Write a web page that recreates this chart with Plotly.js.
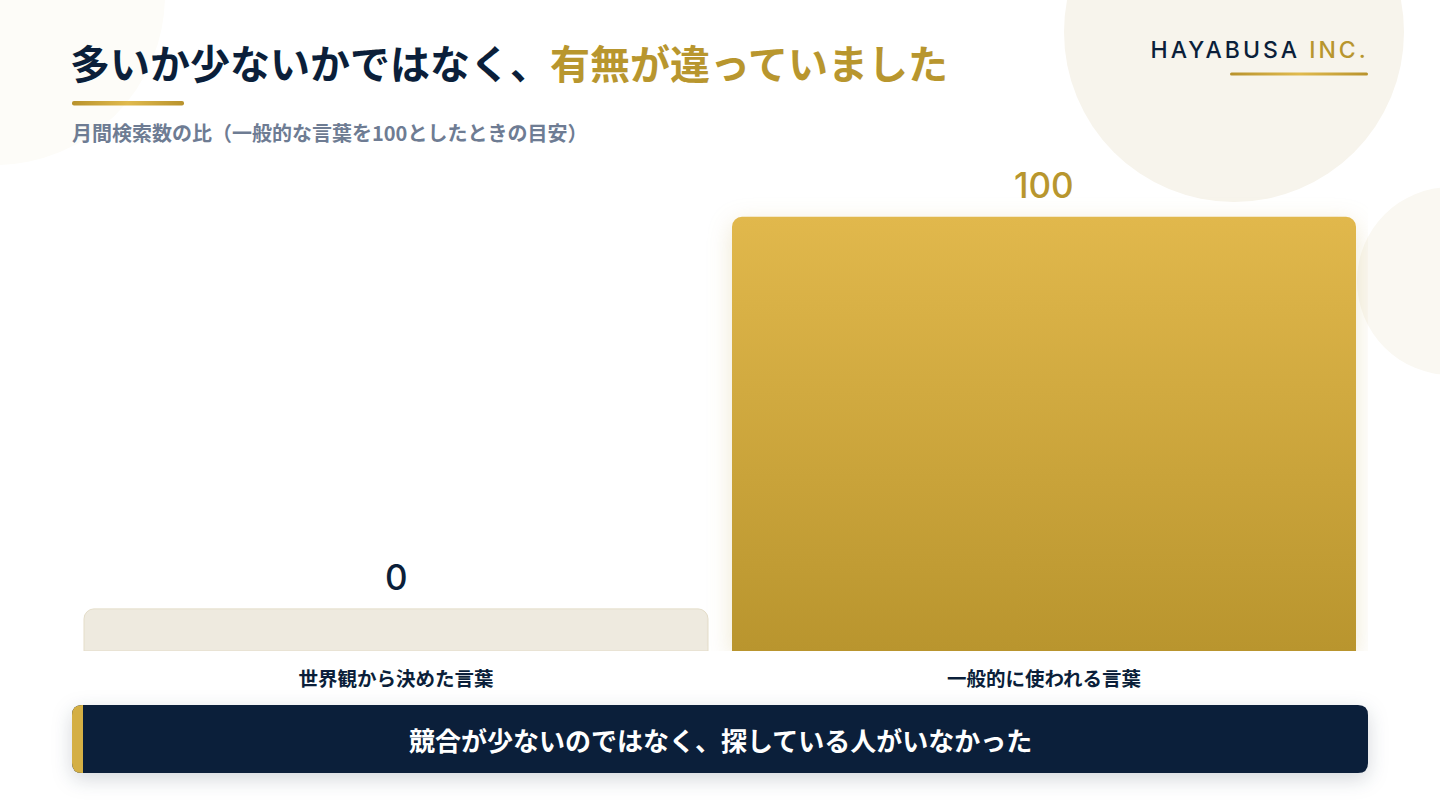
<!DOCTYPE html>
<html><head><meta charset="utf-8">
<script src="https://cdn.plot.ly/plotly-3.0.1.min.js"></script>
<style>html,body{margin:0;padding:0;background:#fff;}#chart{width:1440px;height:810px;}</style>
</head><body><div id="chart"></div>
<script>
// ---- data ----
const categories = ['世界観から決めた言葉', '一般的に使われる言葉'];
const values = [0, 100];
const valueLabels = ['0', '100'];
const titleMain = '多いか少ないかではなく、';
const titleAccent = '有無が違っていました';
const subtitle = '月間検索数の比（一般的な言葉を100としたときの目安）';
const bannerText = '競合が少ないのではなく、探している人がいなかった';
const logoMain = 'HAYABUSA';
const logoAccent = 'INC.';

// ---- style ----
const NAVY = '#0B1F3A', GOLD = '#B8962E', GRAYBLUE = '#6E7C93';
const CJK = '"Noto Sans CJK JP", "Noto Sans", sans-serif';
const minVisible = 9.7; // placeholder height so a zero bar stays visible
const heights = values.map(v => Math.max(v, minVisible));

const L = 72, R = 1368, T = 160, B = 651;
const PW = R - L, PH = B - T;
const px = x => (x - L) / PW;
const py = y => (B - y) / PH;

function roundRect(x0, y0, x1, y1, r, corners) {
  const rx = r / PW, ry = r / PH;
  const X0 = px(x0), X1 = px(x1), Y0 = py(y0), Y1 = py(y1);
  const [tl, tr, br, bl] = corners;
  let d = `M ${tl ? X0 + rx : X0},${Y0}`;
  d += ` L ${tr ? X1 - rx : X1},${Y0}`;
  if (tr) d += ` Q ${X1},${Y0} ${X1},${Y0 - ry}`;
  d += ` L ${X1},${br ? Y1 + ry : Y1}`;
  if (br) d += ` Q ${X1},${Y1} ${X1 - rx},${Y1}`;
  d += ` L ${bl ? X0 + rx : X0},${Y1}`;
  if (bl) d += ` Q ${X0},${Y1} ${X0},${Y1 + ry}`;
  d += ` L ${X0},${tl ? Y0 - ry : Y0}`;
  if (tl) d += ` Q ${X0},${Y0} ${X0 + rx},${Y0}`;
  return d + ' Z';
}
function circle(cx, cy, r, color) {
  return {type: 'circle', xref: 'paper', yref: 'paper', layer: 'below',
    x0: px(cx - r), x1: px(cx + r), y0: py(cy + r), y1: py(cy - r),
    fillcolor: color, line: {width: 0}};
}

const trace = {
  type: 'bar', x: categories, y: heights,
  marker: {color: ['#EEEADF', GOLD], line: {color: ['#E4DDC9', 'rgba(0,0,0,0)'], width: [1, 0]}, cornerradius: 10},
  hoverinfo: 'skip', showlegend: false
};

const labelColors = [NAVY, GOLD];
const annotations = categories.map((c, i) => ({
  x: c, y: heights[i], xref: 'x', yref: 'y', yanchor: 'bottom', yshift: 9,
  text: valueLabels[i], showarrow: false,
  font: {family: 'Inter, "Noto Sans", sans-serif', size: 35, color: labelColors[i], weight: 500}
}));
annotations.push(
  {xref: 'paper', yref: 'paper', x: px(68), y: py(62), xanchor: 'left', yanchor: 'middle', showarrow: false,
   text: titleMain + `<span style="color:${GOLD}">${titleAccent}</span>`,
   font: {family: CJK, size: 40, color: NAVY, weight: 700}},
  {xref: 'paper', yref: 'paper', x: px(70), y: py(132), xanchor: 'left', yanchor: 'middle', showarrow: false,
   text: subtitle, font: {family: CJK, size: 20, color: GRAYBLUE, weight: 700}},
  {xref: 'paper', yref: 'paper', x: px(1351), y: py(50), xanchor: 'right', yanchor: 'middle', showarrow: false,
   text: logoMain + ` <span style="color:${GOLD}">${logoAccent}</span>`,
   font: {family: 'Inter, "Noto Sans", sans-serif', size: 23, color: NAVY, weight: 500}},
  {xref: 'paper', yref: 'paper', x: px(720), y: py(739), xanchor: 'center', yanchor: 'middle', showarrow: false,
   text: bannerText, font: {family: CJK, size: 26, color: '#FFFFFF', weight: 700}}
);

const shapes = [
  circle(-5, -5, 170, '#FDFCF8'),
  circle(1234, 32, 170, '#F7F4EC'),
  circle(1451, 281, 94, '#FAF8F2'),
  {type: 'path', xref: 'paper', yref: 'paper', path: roundRect(72, 101, 184, 105.5, 2, [1,1,1,1]), fillcolor: '#C9A23A', line: {width: 0}},
  {type: 'path', xref: 'paper', yref: 'paper', path: roundRect(1230, 72.5, 1368, 75.5, 1.5, [1,1,1,1]), fillcolor: '#C9A23A', line: {width: 0}},
  {type: 'path', xref: 'paper', yref: 'paper', path: roundRect(72, 705, 1368, 773, 10, [1,1,1,1]), fillcolor: NAVY, line: {width: 0}},
  {type: 'path', xref: 'paper', yref: 'paper', path: roundRect(72, 705, 83, 773, 10, [1,0,0,1]), fillcolor: '#D4AF44', line: {width: 0}}
];

const layout = {
  width: 1440, height: 810, paper_bgcolor: '#FFFFFF', plot_bgcolor: 'rgba(0,0,0,0)',
  margin: {l: L, r: 1440 - R, t: T, b: 810 - B, pad: 0},
  bargap: 24 / 648,
  xaxis: {showgrid: false, zeroline: false, showline: false, ticks: '', ticklabelstandoff: 14,
          tickfont: {family: CJK, size: 19.5, color: NAVY, weight: 700}, fixedrange: true},
  yaxis: {range: [0, 113.1], visible: false, fixedrange: true},
  annotations, shapes, showlegend: false, font: {family: CJK}
};

Plotly.newPlot('chart', [trace], layout, {displayModeBar: false, staticPlot: true}).then(gd => {
  const svg = gd.querySelector('.main-svg');
  let defs = svg.querySelector('defs');
  const NS = 'http://www.w3.org/2000/svg';
  function grad(id, horizontal, stops) {
    const g = document.createElementNS(NS, 'linearGradient');
    g.setAttribute('id', id);
    g.setAttribute('x1', '0'); g.setAttribute('y1', '0');
    g.setAttribute('x2', horizontal ? '1' : '0'); g.setAttribute('y2', horizontal ? '0' : '1');
    stops.forEach(([o, c]) => { const s = document.createElementNS(NS, 'stop'); s.setAttribute('offset', o); s.setAttribute('stop-color', c); g.appendChild(s); });
    defs.appendChild(g);
  }
  grad('goldV', false, [['0', '#E1B84C'], ['1', '#B9952E']]);
  grad('goldH', true, [['0', '#B8922C'], ['0.5', '#E0BA4E'], ['1', '#B8922C']]);
  const bars = gd.querySelectorAll('.bars .point path');
  if (bars[1]) { bars[1].style.fill = 'url(#goldV)'; bars[1].style.filter = 'drop-shadow(0px 6px 12px rgba(184,150,46,0.22))'; }
  gd.querySelectorAll('.shapelayer path').forEach(p => {
    const f = p.style.fill;
    if (f.includes('201, 162, 58')) p.style.fill = 'url(#goldH)';
    if (f.includes('11, 31, 58')) p.style.filter = 'drop-shadow(0px 6px 10px rgba(11,31,58,0.18))';
  });
  gd.querySelectorAll('.annotation-text').forEach(t => {
    if (t.textContent.indexOf('HAYABUSA') >= 0) { t.style.letterSpacing = '3px'; }
  });
});
</script></body></html>
